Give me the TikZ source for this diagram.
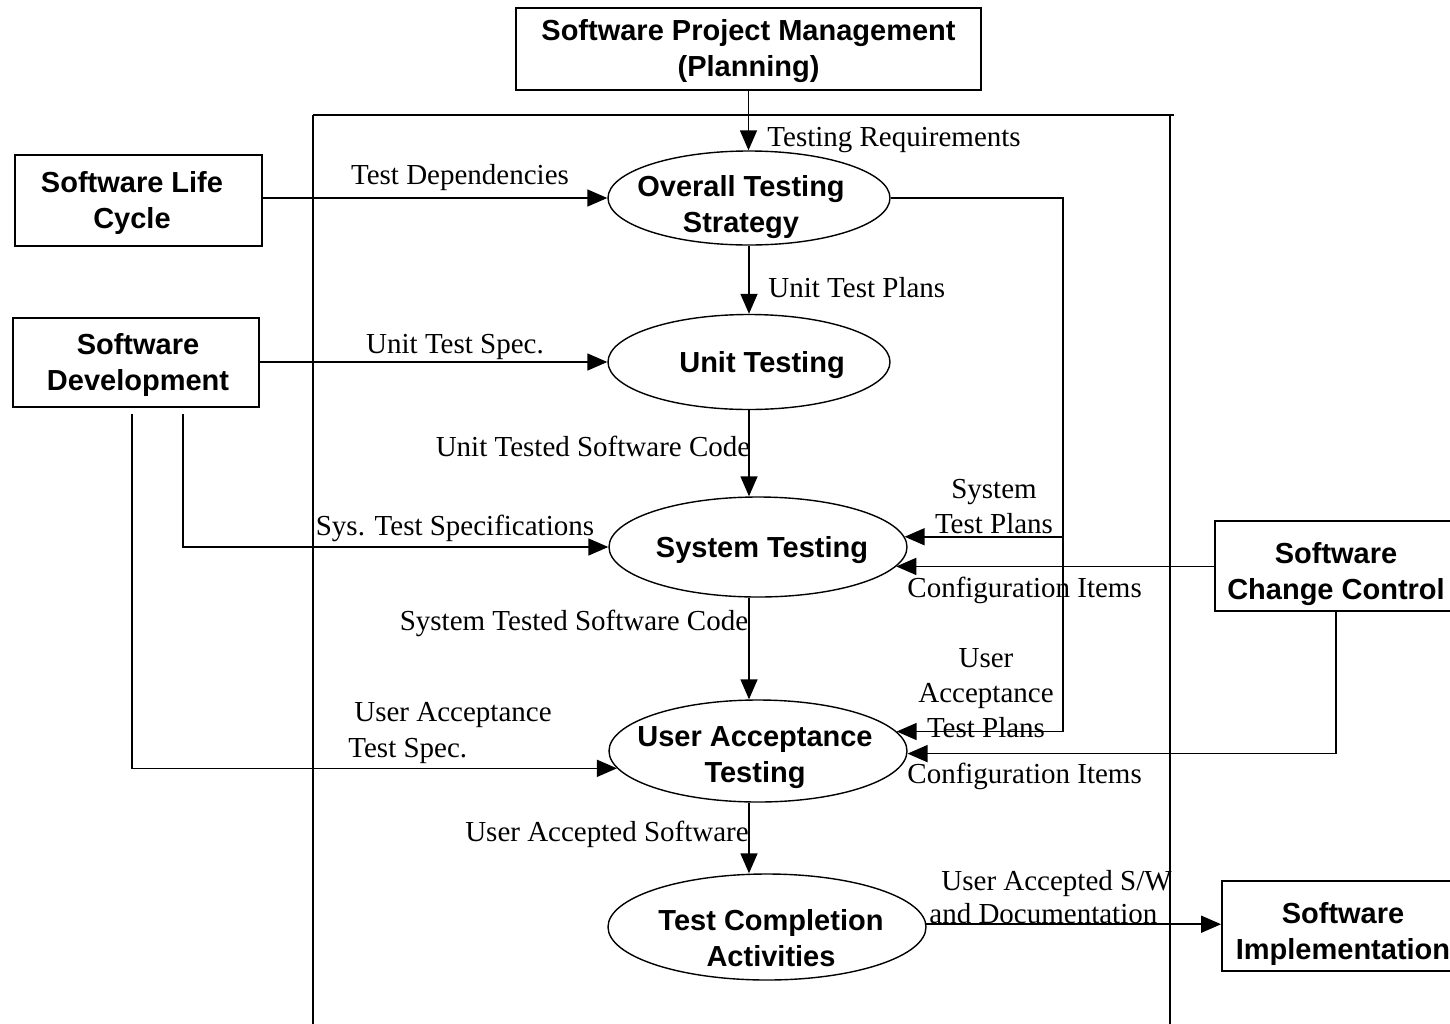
\documentclass[tikz,border=0pt]{standalone}
\usepackage{fontspec}
\setmainfont{Liberation Serif}
\setsansfont{Liberation Sans}
\usetikzlibrary{shapes.geometric,arrows.meta,calc}
\begin{document}
\begin{tikzpicture}[x=0.5pt,y=-0.5pt,
  box/.style={draw, line width=0.9pt, inner sep=0pt},
  proc/.style={draw, ellipse, line width=0.7pt, inner sep=0pt},
  ntext/.style={inner sep=0pt, align=center,
    font=\sffamily\bfseries\fontsize{14.5}{18}\selectfont},
  lbl/.style={inner sep=0pt, align=center, font=\fontsize{14.5}{17.5}\selectfont},
  flow/.style={line width=0.75pt},
  arr/.style={flow, -{Triangle[length=10pt,width=8.5pt]}}]
\clip (0,0) rectangle (1450,1023);

% outer frame of the testing process
\draw[flow] (313,115) -- (1174,115);
\draw[flow] (313,115) -- (313,1030);
\draw[flow] (1170,115) -- (1170,1030);

% external boxes
\node[box, minimum width=232.5pt, minimum height=41pt] (spm) at (748.5,49) {};
\node[box, minimum width=123.5pt, minimum height=45.5pt] (slc) at (138.5,200.5) {};
\node[box, minimum width=123pt, minimum height=44.5pt] (sd) at (136,362.5) {};
\node[box, minimum width=121pt, minimum height=45pt] (scc) at (1336,566) {};
\node[box, minimum width=121pt, minimum height=45pt] (si) at (1343,926) {};

\node[ntext] (spm-t) at (748.5,51) {Software Project Management\\(Planning)};
\node[ntext] (slc-t) at (132,203) {Software Life\\Cycle};
\node[ntext] (sd-t) at (138,365) {Software\\Development};
\node[ntext] (scc-t) at (1336,574) {Software\\Change Control};
\node[ntext] (si-t) at (1343,934) {Software\\Implementation};

% testing processes
\node[proc, minimum width=141pt, minimum height=47pt] (ots) at (749,198) {};
\node[proc, minimum width=141pt, minimum height=47.5pt] (ut) at (749,362) {};
\node[proc, minimum width=149pt, minimum height=50pt] (st) at (758,547) {};
\node[proc, minimum width=149pt, minimum height=51pt] (uat) at (758,751) {};
\node[proc, minimum width=159pt, minimum height=53pt] (tc) at (767,927) {};

\node[ntext] (ots-t) at (741,207.5) {Overall Testing\\Strategy};
\node[ntext] (ut-t) at (762,365) {Unit Testing};
\node[ntext] (st-t) at (762,550) {System Testing};
\node[ntext] (uat-t) at (755,758) {User Acceptance\\Testing};
\node[ntext] (tc-t) at (771,938) {Test Completion\\Activities};

% helper points
\coordinate (sdr) at (183,414);
\coordinate (sdl) at (132,414);
\coordinate (rj) at (1063,198);

% data flows
\draw[arr] (spm.south) -- (spm.south |- ots.north);
\draw[arr] (slc.east |- ots.west) -- (ots.west);
\draw[arr] (ots.south) -- (ots.south |- ut.north);
\draw[arr] (sd.east |- ut.west) -- (ut.west);
\draw[arr] (ut.south) -- (ut.south |- st.north);
\draw[arr] (sdr) |- (st.west);
\draw[arr] (sdl) |- (uat.187);
\draw[arr] (ut.south |- st.south) -- (ut.south |- uat.north);
\draw[arr] (ut.south |- uat.south) -- (ut.south |- tc.north);
\draw[arr] (ots.east) -| (rj |- uat.8) -- (uat.8);
\draw[arr] (rj |- st.4) -- (st.4);
\draw[arr] (scc.west |- st.-8) -- (st.-8);
\draw[arr] (scc.south) |- (uat.-1);
\draw[arr] (tc.1) -- (tc.1 -| si.west);

% flow labels
\node[lbl, anchor=west] (l1) at (767,140.5) {Testing Requirements};
\node[lbl] (l2) at (460,177.5) {Test Dependencies};
\node[lbl, anchor=west] (l3) at (768,287.5) {Unit Test Plans};
\node[lbl] (l4) at (455,346.5) {Unit Test Spec.};
\node[lbl] (l5) at (593,446.5) {Unit Tested Software Code};
\node[lbl] (l6) at (455,528.5) {Sys. Test Specifications};
\node[lbl] (l7) at (574,623.5) {System Tested Software Code};
\node[lbl, anchor=west] (l8) at (354,715.5) {User Acceptance};
\node[lbl, anchor=west] (l9) at (348,750.5) {Test Spec.};
\node[lbl] (l10) at (994,506.5) {System\\Test Plans};
\node[lbl, anchor=west] (l11) at (907,590.5) {Configuration Items};
\node[lbl] (l12) at (986,693.5) {User\\Acceptance\\Test Plans};
\node[lbl, anchor=west] (l13) at (907,776.5) {Configuration Items};
\node[lbl] (l14) at (607,834.5) {User Accepted Software};
\node[lbl, anchor=west] (l15) at (941,883.5) {User Accepted S/W};
\node[lbl, anchor=base west] (l16) at (929,923) {and Documentation};
\end{tikzpicture}
\end{document}
